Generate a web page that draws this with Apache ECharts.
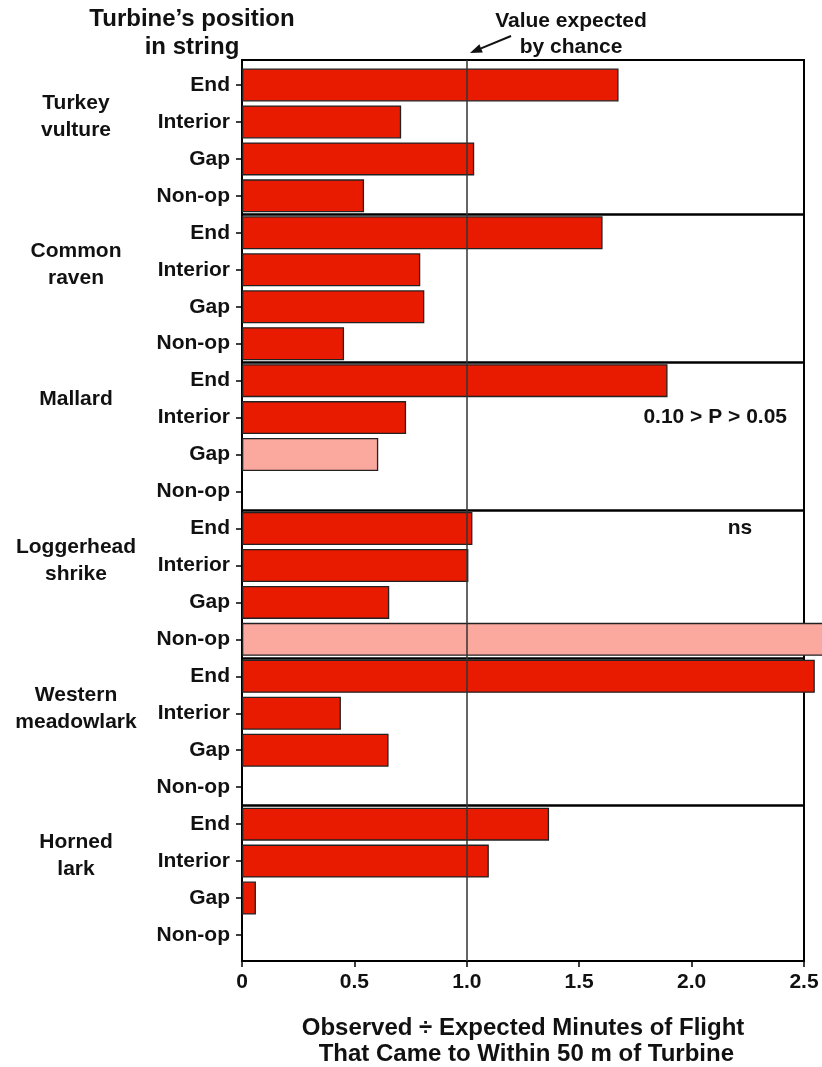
<!DOCTYPE html>
<html>
<head>
<meta charset="utf-8">
<script src="https://cdn.jsdelivr.net/npm/echarts@6/dist/echarts.min.js"></script>
<style>
  html, body { margin: 0; padding: 0; background: #fff; }
  #chart { width: 822px; height: 1067px; }
</style>
</head>
<body>
<div id="chart"></div>
<script>
var species = ['Turkey\nvulture', 'Common\nraven', 'Mallard', 'Loggerhead\nshrike', 'Western\nmeadowlark', 'Horned\nlark'];
var positions = ['End', 'Interior', 'Gap', 'Non-op'];

// observed / expected, in order End, Interior, Gap, Non-op (null = no bar)
var turkeyVulture = [1.675, 0.708, 1.033, 0.543];
var commonRaven = [1.604, 0.793, 0.811, 0.454];
var mallard = [1.893, 0.730, 0.606, null];
var loggerheadShrike = [1.025, 1.007, 0.655, 2.70];
var westernMeadowlark = [2.548, 0.440, 0.652, null];
var hornedLark = [1.366, 1.098, 0.062, null];

// bars that are only marginally significant (drawn light)
var marginal = ['Mallard|Gap', 'Loggerhead\nshrike|Non-op'];

var xTicks = ['0', '0.5', '1.0', '1.5', '2.0', '2.5'];
var chanceValue = 1.0;

var allValues = [turkeyVulture, commonRaven, mallard, loggerheadShrike, westernMeadowlark, hornedLark];

var rows = [];
var barData = [];
allValues.forEach(function (vals, s) {
    vals.forEach(function (v, p) {
        rows.push(String(rows.length));
        var light = marginal.indexOf(species[s] + '|' + positions[p]) >= 0;
        barData.push({
            value: v,
            itemStyle: { color: light ? '#fba89f' : '#e81a00' }
        });
    });
});
// row boundaries, used only for the lines between species
var edges = rows.concat([String(rows.length)]);

var font = 'Liberation Sans, Arial, sans-serif';

var dom = document.getElementById('chart');
var myChart = echarts.init(dom, null, { renderer: 'canvas' });

var option = {
    animation: false,
    backgroundColor: '#fff',
    title: {
        text: 'Turbine\u2019s position\nin string',
        left: 187,
        top: 0,
        textAlign: 'center',
        textStyle: { fontFamily: font, fontWeight: 'bold', fontSize: 24, lineHeight: 28, color: '#111' }
    },
    grid: [
        { left: 242, right: 18, top: 66.5, height: 887, outerBoundsMode: 'none', containLabel: false },
        { left: 242, right: 18, top: 60, bottom: 106, outerBoundsMode: 'none', containLabel: false,
          show: true, borderColor: '#000', borderWidth: 2, backgroundColor: 'transparent' }
    ],
    xAxis: [
        { gridIndex: 0, type: 'value', min: 0, max: 2.5, show: false },
        {
            gridIndex: 1, type: 'value', min: 0, max: 2.5, interval: 0.5,
            axisLine: { show: true, lineStyle: { color: '#000', width: 2 } },
            axisTick: { show: true, length: 6, lineStyle: { color: '#000', width: 1.5 } },
            splitLine: { show: false },
            axisLabel: {
                margin: 11,
                fontFamily: font, fontWeight: 'bold', fontSize: 21, color: '#111',
                formatter: function (v) { return xTicks[Math.round(v / 0.5)]; }
            },
            name: 'Observed \u00f7 Expected Minutes of Flight\n That Came to Within 50 m of Turbine',
            nameLocation: 'middle',
            nameGap: 54,
            nameTextStyle: { fontFamily: font, fontWeight: 'bold', fontSize: 24, lineHeight: 26, color: '#111' }
        }
    ],
    yAxis: [
        {
            gridIndex: 0, type: 'category', data: rows, inverse: true,
            axisLine: { show: false },
            axisTick: { show: true, alignWithLabel: true, length: 6, lineStyle: { color: '#000', width: 1.5 } },
            axisLabel: {
                interval: 0, margin: 12,
                fontFamily: font, fontWeight: 'bold', fontSize: 21, color: '#111',
                formatter: function (v) { return positions[Number(v) % 4]; }
            },
            splitLine: { show: false }
        },
        {
            gridIndex: 0, type: 'category', data: rows, inverse: true, position: 'left',
            axisLine: { show: false }, axisTick: { show: false }, splitLine: { show: false },
            axisLabel: {
                interval: function (i) { return i % 4 === 0; },
                margin: 166, align: 'center', verticalAlign: 'top', padding: [5, 0, 0, 0],
                fontFamily: font, fontWeight: 'bold', fontSize: 21, lineHeight: 27, color: '#111',
                formatter: function (v) { return species[Number(v) / 4]; }
            }
        },
        {
            gridIndex: 0, type: 'category', data: edges, inverse: true, boundaryGap: false,
            axisLine: { show: false }, axisTick: { show: false }, axisLabel: { show: false },
            splitLine: {
                show: true,
                interval: function (i) { return i > 0 && i < 24 && i % 4 === 0; },
                lineStyle: { color: '#000', width: 2.5 }
            }
        },
        { gridIndex: 1, type: 'value', min: 0, max: 1, show: false }
    ],
    series: [
        {
            type: 'bar',
            xAxisIndex: 0,
            yAxisIndex: 0,
            data: barData,
            barWidth: 33,
            clip: false,
            itemStyle: { borderColor: '#222', borderWidth: 1.3 },
            markPoint: {
                symbol: 'rect',
                symbolSize: 0,
                label: {
                    show: true, fontFamily: font, fontWeight: 'bold', fontSize: 21, color: '#111',
                    formatter: function (p) { return p.name; }
                },
                data: [
                    { name: '0.10 > P > 0.05', coord: [2.105, '9'] },
                    { name: 'ns', coord: [2.215, '12'] }
                ]
            }
        },
        {
            type: 'line',
            xAxisIndex: 1,
            yAxisIndex: 3,
            data: [],
            z: 5,
            markLine: {
                silent: true,
                symbol: ['none', 'none'],
                label: { show: false },
                lineStyle: { color: '#333', width: 1.5, type: 'solid' },
                data: [{ xAxis: chanceValue }]
            }
        }
    ],
    graphic: [
        {
            type: 'text', x: 571, y: 8,
            style: {
                text: 'Value expected\nby chance', align: 'center',
                font: 'bold 21px Liberation Sans, Arial, sans-serif', lineHeight: 26, fill: '#111'
            }
        },
        {
            type: 'polyline',
            shape: { points: [[511, 36], [481, 48.4]] },
            style: { stroke: '#111', lineWidth: 2 }
        },
        {
            type: 'polygon',
            shape: { points: [[470, 53], [482.8, 52.6], [479.4, 44.3]] },
            style: { fill: '#111' }
        }
    ]
};

myChart.setOption(option);
</script>
</body>
</html>
